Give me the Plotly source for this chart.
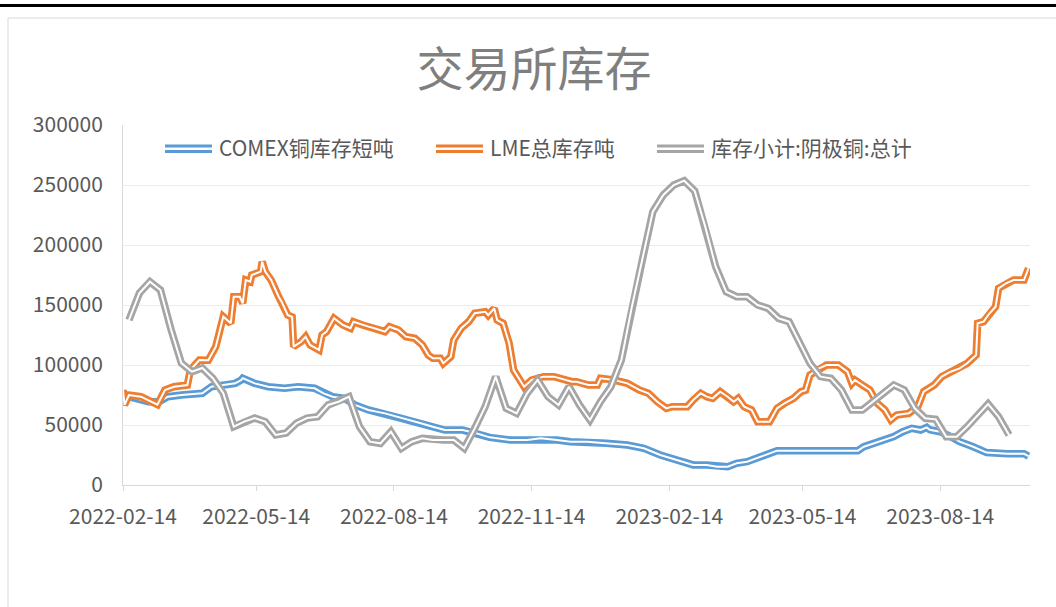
import pandas as pd
import plotly.graph_objects as go

START = pd.Timestamp("2022-02-14")

# COMEX铜库存短吨: day offset from 2022-02-14, value
comex_days = [0, 8, 17, 24, 30, 39, 53, 59, 68, 75, 79, 80, 88, 97, 108, 117, 128, 134, 140,
              148, 155, 164, 175, 186, 194, 199, 207, 215, 227, 236, 245, 259, 270, 279, 290,
              299, 310, 323, 337, 348, 359, 370, 381, 390, 397, 404, 410, 417, 426, 432, 437,
              446, 468, 491, 495, 502, 508, 515, 521, 527, 533, 537, 539, 546, 553, 559, 568,
              577, 591, 602, 605]
comex_vals = [75000, 72200, 69400, 69400, 73600, 75000, 76400, 81900, 83300, 84700, 87500,
              89000, 84700, 81900, 80600, 81900, 80600, 76400, 73600, 72200, 66700, 62500,
              59700, 55600, 52800, 51400, 48600, 45800, 45800, 43100, 39700, 37500, 37500,
              38900, 37500, 36100, 36100, 34700, 33300, 30600, 25000, 20800, 16700, 16700,
              15300, 15300, 18100, 19400, 23600, 26900, 28600, 28600, 28600, 28600, 31900,
              34700, 37500, 40300, 44400, 47200, 45800, 48000, 46000, 44400, 40300, 36100,
              31900, 27000, 26000, 26000, 24000]

# LME总库存吨
lme_days = [0, 1, 4, 12, 23, 28, 34, 43, 45, 51, 57, 62, 67, 72, 74, 78, 80, 82, 85, 86, 92,
            93, 95, 99, 104, 106, 110, 113, 114, 119, 122, 125, 131, 133, 136, 141, 147, 152,
            154, 160, 164, 168, 175, 178, 184, 189, 195, 200, 204, 207, 212, 214, 219, 221,
            226, 231, 235, 242, 244, 248, 250, 254, 258, 261, 268, 273, 281, 288, 295, 300,
            303, 311, 317, 319, 328, 337, 345, 351, 357, 363, 367, 377, 381, 386, 390, 394,
            399, 404, 408, 411, 415, 420, 424, 432, 437, 442, 448, 453, 456, 459, 465, 470,
            478, 484, 487, 489, 494, 499, 504, 509, 513, 517, 525, 531, 535, 542, 547, 553,
            559, 564, 570, 571, 575, 579, 583, 585, 590, 595, 602, 604, 605]
lme_vals = [79200, 66700, 75000, 73600, 67000, 79200, 81900, 83300, 95800, 104200, 104000,
            115300, 140300, 134700, 156900, 156900, 151400, 170800, 169400, 175000, 177800,
            186100, 177800, 170800, 156900, 152800, 141700, 140000, 115300, 119400, 123600,
            116700, 112500, 125000, 127800, 138900, 133300, 130600, 136100, 133300, 132000,
            130600, 127800, 131900, 129200, 123600, 122200, 116700, 108300, 105600, 105600,
            101400, 106900, 120800, 130600, 136100, 143100, 144400, 141500, 147200, 137500,
            134700, 118100, 95800, 81900, 87500, 90300, 90300, 87500, 86100, 86100, 83300,
            83300, 88900, 87500, 84700, 79200, 76400, 69400, 63900, 65300, 65300, 70800,
            76400, 73600, 72200, 77800, 73600, 69400, 72200, 65300, 62500, 52800, 52800,
            63900, 68100, 72200, 77800, 79000, 91700, 97200, 100000, 100000, 94400, 84700,
            87500, 83300, 79200, 68100, 62500, 54200, 58300, 59700, 65300, 77800, 83300,
            90300, 94400, 97200, 101400, 108300, 134700, 136100, 143100, 148600, 163900,
            168100, 170800, 170800, 176400, 180600]

# 库存小计:阴极铜:总计 (weekly, first Friday 2022-02-18)
shfe_first = "2022-02-18"
shfe_vals = [137500, 160000, 169400, 162500, 130000, 101600, 94400, 97500, 89000, 76600,
             48600, 52800, 55800, 52800, 41700, 43300, 51600, 55800, 56900, 66700, 69400,
             73600, 48600, 36100, 34700, 44400, 30600, 36100, 38900, 37500, 37500, 37500,
             30600, 47200, 65300, 90300, 63900, 59700, 76400, 87500, 73600, 66700, 81900,
             66700, 54200, 69400, 81900, 104200, 148600, 187500, 227800, 241700, 250000,
             253600, 245000, 215300, 181900, 161100, 156900, 156900, 150000, 147200, 138900,
             136100, 118100, 101400, 90300, 88900, 79200, 62500, 62500, 69400, 76400, 83300,
             79200, 63900, 55600, 54700, 40300, 40300, 48600, 58300, 67500, 56900, 41700]

names = ["COMEX铜库存短吨", "LME总库存吨", "库存小计:阴极铜:总计"]
colors = ["#5b9bd5", "#ed7d31", "#a5a5a5"]

comex_x = START + pd.to_timedelta(comex_days, unit="D")
lme_x = START + pd.to_timedelta(lme_days, unit="D")
shfe_x = pd.date_range(shfe_first, periods=len(shfe_vals), freq="7D")

FONT = "Noto Sans CJK SC, Noto Sans, sans-serif"
TXT = "#595959"

# plot area in pixels
L, R, T, B = 123, 1030, 125, 485


def xp(px):
    return (px - L) / (R - L)


def yp(py):
    return (B - py) / (B - T)


fig = go.Figure()

# double lines like Excel's compound line: thick coloured line with thin white core
for x, y, name, c in zip([comex_x, lme_x, shfe_x], [comex_vals, lme_vals, shfe_vals], names, colors):
    fig.add_trace(go.Scatter(x=x, y=y, mode="lines", name=name,
                             line=dict(color=c, width=7.5), showlegend=False))
    fig.add_trace(go.Scatter(x=x, y=y, mode="lines", hoverinfo="skip",
                             line=dict(color="white", width=2), showlegend=False))

shapes = [
    # thick black rule at the top of the page
    dict(type="line", xref="paper", yref="paper", x0=xp(0), x1=xp(1056), y0=yp(5.5), y1=yp(5.5),
         line=dict(color="black", width=3)),
    # chart border
    dict(type="rect", xref="paper", yref="paper", x0=xp(8), x1=xp(1070), y0=yp(18), y1=yp(620),
         line=dict(color="#d9d9d9", width=1)),
]
annotations = []

# manual legend with double-line symbols
leg_x = [165, 436, 657]
for lx, name, c in zip(leg_x, names, colors):
    for ly in (146, 151.5):
        shapes.append(dict(type="line", xref="paper", yref="paper", x0=xp(lx), x1=xp(lx + 47),
                           y0=yp(ly), y1=yp(ly), line=dict(color=c, width=3)))
    annotations.append(dict(text=name, xref="paper", yref="paper", x=xp(lx + 52), y=yp(147),
                            xanchor="left", yanchor="middle", showarrow=False,
                            font=dict(family=FONT, size=21, color=TXT)))

fig.update_layout(
    width=1056, height=607,
    margin=dict(l=L, r=1056 - R, t=T, b=607 - B),
    paper_bgcolor="white", plot_bgcolor="white",
    title=dict(text="交易所库存", x=534 / 1056, y=1 - 70 / 607, xref="container", yref="container",
               xanchor="center", yanchor="middle",
               font=dict(family=FONT, size=47, color="#7f7f7f")),
    shapes=shapes, annotations=annotations,
    showlegend=False,
)

fig.update_xaxes(
    type="date", range=[START, START + pd.Timedelta(days=606)],
    tick0="2022-02-14", dtick="M3", tickformat="%Y-%m-%d",
    showgrid=False, showline=True, linecolor="#d9d9d9", linewidth=1,
    ticks="outside", ticklen=5, tickcolor="#d9d9d9",
    ticklabelstandoff=8,
    tickfont=dict(family=FONT, size=21, color=TXT),
)
fig.update_yaxes(
    range=[0, 300000], tick0=0, dtick=50000, tickformat="d",
    showgrid=True, gridcolor="#ececec", gridwidth=1,
    showline=True, linecolor="#d9d9d9", linewidth=1,
    zeroline=False, ticks="", ticklabelstandoff=15,
    tickfont=dict(family=FONT, size=21, color=TXT),
)

# drop the default page margin so the figure sits at the window's top-left corner
fig.write_html("out.html", config={"displayModeBar": False},
               post_script="document.body.style.margin='0';")
